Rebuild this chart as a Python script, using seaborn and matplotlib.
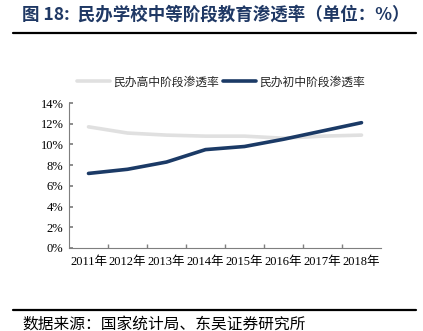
import matplotlib
matplotlib.use("Agg")
import matplotlib.pyplot as plt
import seaborn as sns
import pandas as pd
from matplotlib.lines import Line2D
from matplotlib.ticker import FuncFormatter, FixedLocator

years = ["2011年", "2012年", "2013年", "2014年", "2015年", "2016年", "2017年", "2018年"]
high_school = [11.7, 11.1, 10.9, 10.8, 10.8, 10.6, 10.8, 10.9]
junior_school = [7.2, 7.6, 8.3, 9.5, 9.8, 10.5, 11.3, 12.1]
series_names = ["民办高中阶段渗透率", "民办初中阶段渗透率"]
colors = ["#e0e0e0", "#1b3a66"]

sns.set_theme(style="white")
cjk = ["Noto Sans CJK SC", "DejaVu Sans"]
serif = ["Liberation Serif", "Noto Sans CJK SC"]
plt.rcParams["font.family"] = cjk

df = pd.DataFrame({
    "year": years * 2,
    "rate": high_school + junior_school,
    "series": [series_names[0]] * len(years) + [series_names[1]] * len(years),
})
df["x"] = list(range(len(years))) * 2

fig = plt.figure(figsize=(4.23, 3.31), dpi=100)
ax = fig.add_axes([69 / 423, 1 - 248 / 331, (381 - 69) / 423, (248 - 103) / 331])

sns.lineplot(data=df, x="x", y="rate", hue="series", palette=colors,
             linewidth=2.6, ax=ax, legend=False)

ax.set_xlim(-0.5, len(years) - 0.5)
ax.set_ylim(0, 14)
ax.set_yticks(range(0, 15, 2))
ax.yaxis.set_major_formatter(FuncFormatter(lambda v, p: f"{int(v)}%"))
ax.set_xticks(range(len(years)))
ax.set_xticklabels(years)
ax.xaxis.set_minor_locator(FixedLocator([i + 0.5 for i in range(len(years) - 1)]))
ax.set_xlabel("")
ax.set_ylabel("")

for lbl in ax.get_xticklabels() + ax.get_yticklabels():
    lbl.set_fontfamily(serif)
    lbl.set_fontsize(9)
    lbl.set_color("black")

for s in ["top", "right"]:
    ax.spines[s].set_visible(False)
for s in ["left", "bottom"]:
    ax.spines[s].set_color("#7f7f7f")
    ax.spines[s].set_linewidth(0.8)

ax.tick_params(axis="y", which="major", direction="in", length=3, left=True,
               color="#7f7f7f", pad=4)
ax.tick_params(axis="x", which="major", length=0, pad=6)
ax.tick_params(axis="x", which="minor", direction="in", length=3, bottom=True,
               color="#7f7f7f")

handles = [Line2D([0], [0], color=c, linewidth=2.6) for c in colors]
fig.legend(handles, series_names, loc="center", bbox_to_anchor=(221 / 423, 1 - 82 / 331),
           ncol=2, frameon=False, handlelength=2.8, handletextpad=0.25,
           columnspacing=0.4, prop={"family": cjk, "size": 8.5})

fig.text(22 / 423, 1 - 15 / 331, "图 18:  民办学校中等阶段教育渗透率（单位：%）",
         fontsize=12.6, fontweight="bold", color="#1f3864", va="center", ha="left",
         family=cjk)
fig.add_artist(Line2D([13 / 423, 416 / 423], [1 - 33 / 331, 1 - 33 / 331],
                      color="black", linewidth=1.6))
fig.add_artist(Line2D([13 / 423, 416 / 423], [1 - 310 / 331, 1 - 310 / 331],
                      color="black", linewidth=1.6))
fig.text(22 / 423, 1 - 324 / 331, "数据来源：国家统计局、东吴证券研究所",
         fontsize=11.3, color="black", va="center", ha="left", family=cjk)

fig.savefig("out.png", dpi=100)
